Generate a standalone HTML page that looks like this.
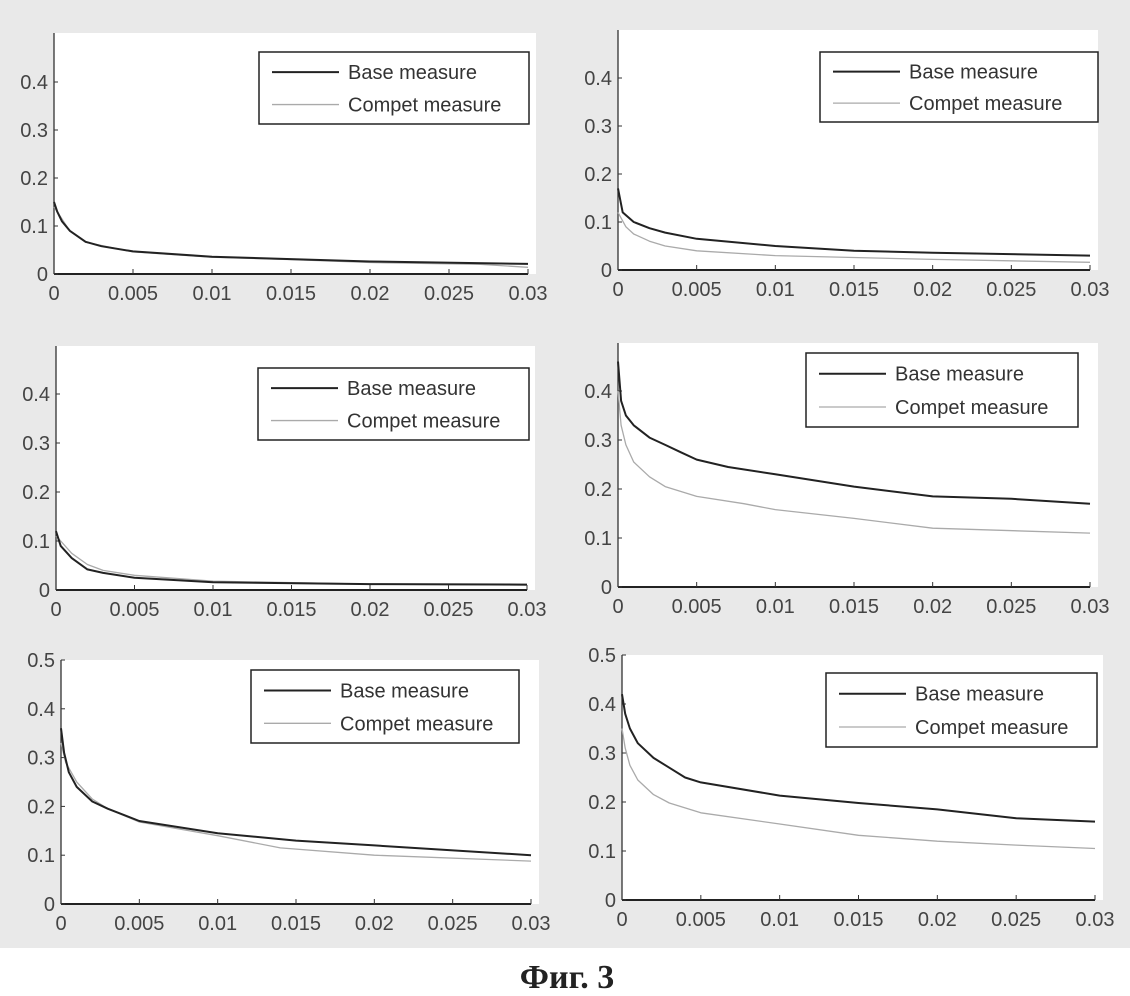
<!DOCTYPE html>
<html><head><meta charset="utf-8"><style>
html,body{margin:0;padding:0;background:#fff;width:1130px;height:996px;overflow:hidden}
svg{display:block}
</style></head><body>
<svg id="s" width="1130" height="996" xmlns="http://www.w3.org/2000/svg" font-family="Liberation Sans, DejaVu Sans, sans-serif">
<rect x="0" y="0" width="1130" height="948" fill="#e9e9e9"/>
<text x="567" y="988" text-anchor="middle" font-family="Liberation Serif, serif" font-weight="bold" font-size="34" fill="#222">Фиг. 3</text>
</svg>
<script>
var S=document.getElementById('s'),NS='http://www.w3.org/2000/svg';
function el(t,a,txt){var e=document.createElementNS(NS,t);for(var k in a)e.setAttribute(k,a[k]);if(txt!=null)e.textContent=txt;S.appendChild(e);return e;}
var P=[
{x0:54,x1:528,y0:274,top:33,ymax:0.4,step:48,leg:[259,52,529,124],
 b:[[0,0.15],[0.0002,0.13],[0.0005,0.11],[0.001,0.09],[0.002,0.067],[0.003,0.058],[0.005,0.047],[0.01,0.036],[0.015,0.031],[0.02,0.026],[0.03,0.021]],
 c:[[0,0.14],[0.0003,0.125],[0.001,0.09],[0.002,0.066],[0.005,0.046],[0.01,0.035],[0.015,0.03],[0.02,0.024],[0.027,0.02],[0.03,0.014]]},
{x0:618,x1:1090,y0:270,top:30,ymax:0.4,step:48,leg:[820,52,1098,122],
 b:[[0,0.17],[0.0003,0.12],[0.001,0.1],[0.002,0.087],[0.003,0.078],[0.005,0.065],[0.01,0.05],[0.015,0.04],[0.02,0.036],[0.03,0.03]],
 c:[[0,0.12],[0.0005,0.09],[0.001,0.075],[0.002,0.06],[0.003,0.05],[0.005,0.04],[0.01,0.03],[0.02,0.022],[0.03,0.016]]},
{x0:56,x1:527,y0:590,top:346,ymax:0.4,step:49,leg:[258,368,529,440],
 b:[[0,0.12],[0.0003,0.09],[0.001,0.065],[0.002,0.042],[0.003,0.035],[0.005,0.025],[0.01,0.016],[0.02,0.012],[0.03,0.011]],
 c:[[0,0.11],[0.0003,0.1],[0.001,0.075],[0.002,0.052],[0.003,0.04],[0.005,0.03],[0.01,0.018],[0.02,0.012],[0.03,0.01]]},
{x0:618,x1:1090,y0:587,top:343,ymax:0.4,step:49,leg:[806,353,1078,427],
 b:[[0,0.46],[0.0002,0.38],[0.0005,0.35],[0.001,0.33],[0.002,0.305],[0.003,0.29],[0.004,0.275],[0.005,0.26],[0.007,0.245],[0.01,0.23],[0.015,0.205],[0.02,0.185],[0.025,0.18],[0.03,0.17]],
 c:[[0,0.4],[0.0002,0.33],[0.0005,0.29],[0.001,0.255],[0.002,0.225],[0.003,0.205],[0.005,0.185],[0.008,0.17],[0.01,0.158],[0.015,0.14],[0.02,0.12],[0.03,0.11]]},
{x0:61,x1:531,y0:904,top:660,ymax:0.5,step:48.8,leg:[251,670,519,743],
 b:[[0,0.36],[0.0002,0.31],[0.0005,0.27],[0.001,0.24],[0.002,0.21],[0.003,0.195],[0.005,0.17],[0.01,0.145],[0.015,0.13],[0.02,0.12],[0.03,0.1]],
 c:[[0,0.33],[0.0003,0.29],[0.001,0.25],[0.002,0.215],[0.003,0.195],[0.005,0.168],[0.01,0.14],[0.014,0.115],[0.02,0.1],[0.03,0.088]]},
{x0:622,x1:1095,y0:900,top:655,ymax:0.5,step:49,leg:[826,673,1097,747],
 b:[[0,0.42],[0.0002,0.38],[0.0005,0.35],[0.001,0.32],[0.002,0.29],[0.003,0.27],[0.004,0.25],[0.005,0.24],[0.01,0.213],[0.015,0.198],[0.02,0.185],[0.025,0.167],[0.03,0.16]],
 c:[[0,0.35],[0.0002,0.31],[0.0005,0.275],[0.001,0.245],[0.002,0.215],[0.003,0.198],[0.005,0.178],[0.01,0.155],[0.015,0.132],[0.02,0.12],[0.025,0.112],[0.03,0.105]]}
];
var xt=['0','0.005','0.01','0.015','0.02','0.025','0.03'];
P.forEach(function(p,pi){
 var W=p.x1-p.x0;
 el('rect',{x:p.x0,y:p.top,width:W+8,height:p.y0-p.top,fill:'#fff'});
 el('line',{x1:p.x0,y1:p.top,x2:p.x0,y2:p.y0,stroke:'#333','stroke-width':1.3});
 el('line',{x1:p.x0,y1:p.y0,x2:p.x1,y2:p.y0,stroke:'#222','stroke-width':2});
 var n=Math.round(p.ymax*10);
 var fs=20;
 for(var i=0;i<=n;i++){var y=p.y0-i*p.step;
  el('line',{x1:p.x0,y1:y,x2:p.x0+4,y2:y,stroke:'#333','stroke-width':1});
  el('text',{x:p.x0-6,y:y+7,'text-anchor':'end','font-size':fs,fill:'#444'},i==0?'0':(i==5?'0.5':'0.'+i));}
 for(var j=0;j<7;j++){var x=p.x0+W*j/6;
  el('line',{x1:x,y1:p.y0,x2:x,y2:p.y0-5,stroke:'#333','stroke-width':1});
  el('text',{x:x,y:p.y0+26,'text-anchor':'middle','font-size':fs,fill:'#444'},xt[j]);}
 function path(pts){return pts.map(function(q,k){return (k?'L':'M')+(p.x0+q[0]/0.03*W).toFixed(1)+' '+(p.y0-q[1]*p.step*10).toFixed(1);}).join(' ');}
 el('path',{d:path(p.c),fill:'none',stroke:'#aaa','stroke-width':1.3,'stroke-linejoin':'round'});
 el('path',{d:path(p.b),fill:'none',stroke:'#222','stroke-width':2,'stroke-linejoin':'round'});
 var L=p.leg,h=L[3]-L[1];
 el('rect',{x:L[0],y:L[1],width:L[2]-L[0],height:h,fill:'#fff',stroke:'#222','stroke-width':1.5});
 var r1=L[1]+h*0.28,r2=L[1]+h*0.73;
 el('line',{x1:L[0]+13,y1:r1,x2:L[0]+80,y2:r1,stroke:'#222','stroke-width':2});
 el('line',{x1:L[0]+13,y1:r2,x2:L[0]+80,y2:r2,stroke:'#aaa','stroke-width':1.3});
 el('text',{x:L[0]+89,y:r1+7,'font-size':20,fill:'#333'},'Base measure');
 el('text',{x:L[0]+89,y:r2+7,'font-size':20,fill:'#333'},'Compet measure');
});
</script>
</body></html>
